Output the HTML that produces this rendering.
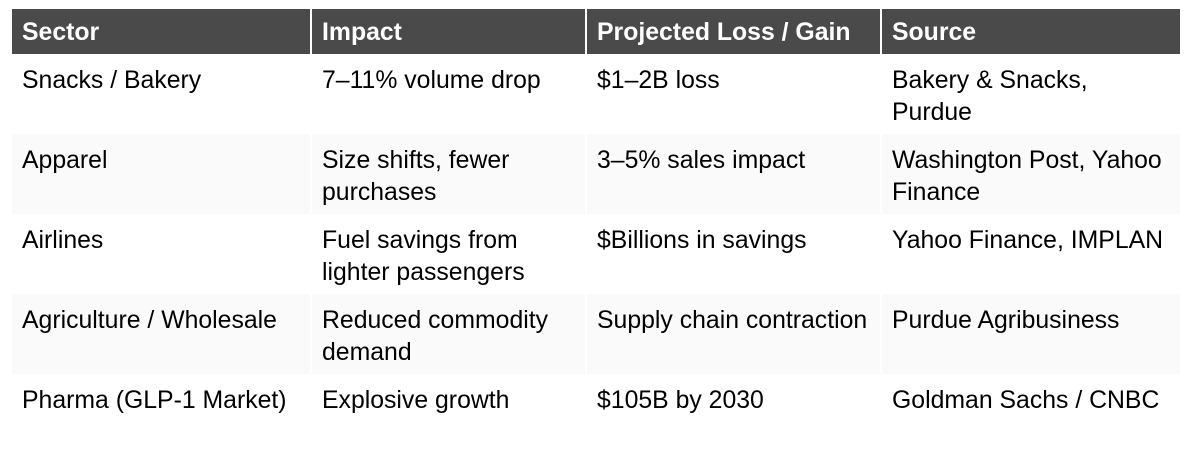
<!DOCTYPE html>
<html><head><meta charset="utf-8"><style>
body{margin:0;width:1198px;height:432px;background:#fff;overflow:hidden;font-family:"Liberation Sans",Arial,sans-serif}
table{position:absolute;left:12px;top:9px;width:1168px;border-collapse:collapse;table-layout:fixed}
th{background:#4a4a4a;color:#fff;font-weight:bold;font-size:24.8px;text-align:left;height:43px;padding:2px 10px 0 10px;border-left:2px solid #fff;white-space:nowrap}
th:first-child{border-left:none}
td{font-size:24.8px;color:#000;vertical-align:top;padding:11px 10px 0 10px;height:69px;line-height:32px;border-left:2px solid #fff;white-space:nowrap}
td:first-child{border-left:none}
tr.alt td{background:#fafafa}
</style></head><body>
<table>
<colgroup><col style="width:299px"><col style="width:275px"><col style="width:295px"><col style="width:299px"></colgroup>
<tr><th>Sector</th><th>Impact</th><th>Projected Loss / Gain</th><th>Source</th></tr>
<tr><td>Snacks / Bakery</td><td>7–11% volume drop</td><td>$1–2B loss</td><td>Bakery &amp; Snacks,<br>Purdue</td></tr>
<tr class="alt"><td>Apparel</td><td>Size shifts, fewer<br>purchases</td><td>3–5% sales impact</td><td>Washington Post, Yahoo<br>Finance</td></tr>
<tr><td>Airlines</td><td>Fuel savings from<br>lighter passengers</td><td>$Billions in savings</td><td>Yahoo Finance, IMPLAN</td></tr>
<tr class="alt"><td>Agriculture / Wholesale</td><td>Reduced commodity<br>demand</td><td>Supply chain contraction</td><td>Purdue Agribusiness</td></tr>
<tr><td>Pharma (GLP-1 Market)</td><td>Explosive growth</td><td>$105B by 2030</td><td>Goldman Sachs / CNBC</td></tr>
</table>
</body></html>
